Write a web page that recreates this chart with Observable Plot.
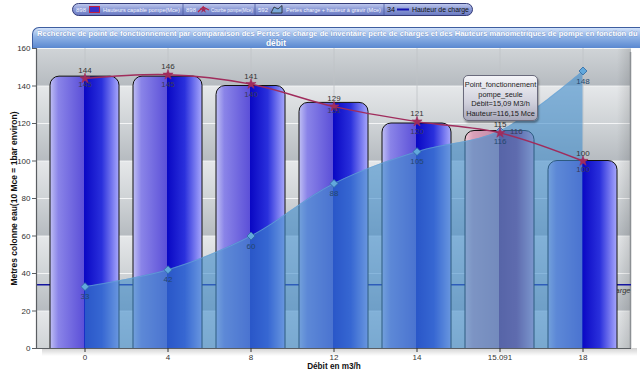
<!DOCTYPE html>
<html>
<head>
<meta charset="utf-8">
<script src="https://cdn.jsdelivr.net/npm/d3@7"></script>
<script src="https://cdn.jsdelivr.net/npm/@observablehq/plot@0.6"></script>
<style>
  html, body { margin: 0; padding: 0; background: #fff; }
  #wrap { position: relative; width: 640px; height: 376px; overflow: hidden; font-family: "Liberation Sans", Arial, sans-serif; }
  #chart { position: absolute; left: 0; top: 0; }
  #legend { position: absolute; left: 0; top: 0; }
  #title { position: absolute; left: 32px; top: 27px; width: 608px; height: 21px; border: 1px solid #3e5ea0; border-bottom: none; border-right: none; border-radius: 7px 0 0 0;
    background: linear-gradient(#d2e2fa, #8eb2e6 45%, #5a88d0 100%); box-sizing: border-box; }
  #tip { position: absolute; left: 463px; top: 75px; width: 75px; height: 46px; border: 1px solid #6a6a7c; border-radius: 5px;
    background: linear-gradient(#f4f4f8, #d0d0dc 60%, #a8a8ba); box-shadow: 1px 2px 2px rgba(0,0,0,0.35);
    font-size: 7.4px; line-height: 9.6px; text-align: center; color: #1a1a1a; padding-top: 4px; box-sizing: border-box; }
</style>
</head>
<body>
<div id="wrap">
  <div id="chart"></div>
  <div id="legend"></div>
  <div id="title"></div>
  <div id="tip"></div>
</div>
<script>
// ---------- data ----------
const categories = ["0", "4", "8", "12", "14", "15.091", "18"];
const hauteursCapable = [145, 145, 140, 131, 120, 116, 100];   // bars
const courbePompe = [144, 146, 141, 129, 121, 115, 100];       // line with stars
const pertesCharge = [33, 42, 60, 88, 105, 116, 148];          // area
const hauteurCharge = 34;                                      // horizontal line
const yTicks = [0, 20, 40, 60, 80, 100, 120, 140, 160];
const highlightCategory = "15.091";
const legendCounts = ["898", "898", "592", "34"];
const legendLabels = ["Hauteurs capable pompe(Mce)", "Courbe pompe(Mce)", "Pertes charge + hauteur à gravir (Mce)", "Hauteur de charge"];
const legendKinds = ["bar", "star", "area", "line"];
const titleLines = [
  "Recherche de point de fonctionnement par comparaison des Pertes de charge de inventaire perte de charges et des Hauteurs manometriques de pompe en fonction du",
  "débit"
];
const tipLines = ["Point_fonctionnement", "pompe_seule", "Débit=15,09 M3/h", "Hauteur=116,15 Mce"];
const xLabel = "Débit en m3/h";
const yLabel = "Metres colonne eau(10 Mce = 1bar environ)";
const chargeLabel = "Hauteur de charge";

const rows = categories.map((c, i) => ({cat: c, bar: hauteursCapable[i], pompe: courbePompe[i], pertes: pertesCharge[i]}));
const normalRows = rows.filter(d => d.cat !== highlightCategory);
const hiRows = rows.filter(d => d.cat === highlightCategory);

// ---------- background / defs mark ----------
function background(index, scales, values, dims) {
  const {width, height, marginLeft, marginRight, marginTop, marginBottom} = dims;
  const g = d3.create("svg:g");
  const defs = g.append("defs");
  function lin(id, stops, vertical) {
    const lg = defs.append("linearGradient").attr("id", id)
      .attr("x1", 0).attr("y1", 0).attr("x2", vertical ? 0 : 1).attr("y2", vertical ? 1 : 0);
    stops.forEach(([o, c, op]) => lg.append("stop").attr("offset", o).attr("stop-color", c).attr("stop-opacity", op == null ? 1 : op));
  }
  lin("barGrad", [[0, "#c0c0f4"], [0.12, "#8a84e8"], [0.49, "#5c50d8"], [0.5, "#0a08c4"], [0.75, "#2a30dc"], [1, "#a8a8fc"]]);
  lin("barGradHi", [[0, "#f0c8d4"], [0.12, "#d8a0b8"], [0.49, "#c28aa8"], [0.5, "#7a2a72"], [0.75, "#8e3c84"], [1, "#d6a8d0"]]);
  lin("bandLight", [[0, "#e6e8ea"], [1, "#cfd3d6"]], true);
  lin("bandDark", [[0, "#d0d4d7"], [1, "#b6bbc0"]], true);
  lin("shadow", [[0, "#000", 0.18], [1, "#000", 0]], true);
  lin("rightShade", [[0, "#000", 0], [1, "#000", 0.12]]);
  const x0 = marginLeft, x1 = width - marginRight, yTop = marginTop, yBot = height - marginBottom;
  g.append("rect").attr("x", x0 + 6).attr("y", yBot).attr("width", x1 - x0).attr("height", 8).attr("fill", "url(#shadow)");
  g.append("rect").attr("x", x0).attr("y", yTop).attr("width", x1 - x0).attr("height", yBot - yTop).attr("fill", "#d6d9dc");
  for (let i = 0; i < yTicks.length - 1; i++) {
    const ya = scales.y(yTicks[i + 1]), yb = scales.y(yTicks[i]);
    g.append("rect").attr("x", x0).attr("y", ya).attr("width", x1 - x0).attr("height", yb - ya)
      .attr("fill", i % 2 === 0 ? "url(#bandLight)" : "url(#bandDark)");
    g.append("line").attr("x1", x0).attr("x2", x1).attr("y1", ya + 0.5).attr("y2", ya + 0.5)
      .attr("stroke", "#f4f5f6").attr("stroke-width", 1);
  }
  g.append("rect").attr("x", x1 - 14).attr("y", yTop).attr("width", 14).attr("height", yBot - yTop).attr("fill", "url(#rightShade)");
  g.append("line").attr("x1", x1 - 0.5).attr("x2", x1 - 0.5).attr("y1", yTop + 4).attr("y2", yBot).attr("stroke", "#8c9094").attr("stroke-width", 1.5);
  return g.node();
}
function axisLines(index, scales, values, dims) {
  const {width, height, marginLeft, marginRight, marginTop, marginBottom} = dims;
  const g = d3.create("svg:g").attr("stroke", "#5a5e62").attr("stroke-width", 1.2);
  g.append("line").attr("x1", marginLeft + 0.5).attr("x2", marginLeft + 0.5).attr("y1", marginTop).attr("y2", height - marginBottom);
  g.append("line").attr("x1", marginLeft).attr("x2", width - marginRight).attr("y1", height - marginBottom + 0.5).attr("y2", height - marginBottom + 0.5);
  return g.node();
}

const chart = Plot.plot({
  width: 640,
  height: 376,
  marginTop: 48,
  marginBottom: 28,
  marginLeft: 36,
  marginRight: 9,
  style: {fontFamily: "'Liberation Sans', Arial, sans-serif", fontSize: "8px", color: "#333", background: "transparent", overflow: "visible"},
  x: {type: "band", domain: categories, padding: 0.166},
  y: {domain: [0, 160]},
  marks: [
    background,
    Plot.ruleX(categories, {stroke: "#bfc3c7", strokeWidth: 0.8}),
    Plot.ruleY([hauteurCharge], {stroke: "#1414a0", strokeWidth: 1.5}),
    Plot.text([chargeLabel], {frameAnchor: "right", y: () => hauteurCharge, dy: 6, dx: -1, textAnchor: "end", fill: "#333", fontSize: 7.5, fontStyle: "italic"}),
    Plot.barY(normalRows, {x: "cat", y: "bar", fill: "url(#barGrad)", stroke: "#111", strokeWidth: 1, rx: 9, insetBottom: -12, clip: true}),
    Plot.barY(hiRows, {x: "cat", y: "bar", fill: "url(#barGradHi)", stroke: "#111", strokeWidth: 1, rx: 9, insetBottom: -12, clip: true}),
    Plot.areaY(rows, {x: "cat", y: "pertes", curve: "catmull-rom", fill: "#3f8ccc", fillOpacity: 0.6}),
    Plot.lineY(rows, {x: "cat", y: "pertes", curve: "catmull-rom", stroke: "#6aa6d8", strokeWidth: 0.8, strokeOpacity: 0.8}),
    Plot.lineY(rows, {x: "cat", y: "pompe", curve: "catmull-rom", stroke: "#a02c5c", strokeWidth: 1.5}),
    Plot.dot(rows, {x: "cat", y: "pertes", symbol: "diamond2", r: 3.6, fill: "#62a8dc", stroke: "#2e6aa2", strokeWidth: 0.8}),
    Plot.dot(rows, {x: "cat", y: "pompe", symbol: "star", r: 3.2, fill: "#a02c5c", stroke: "#a02c5c", strokeWidth: 0.6}),
    Plot.text(rows, {x: "cat", y: "pompe", text: "pompe", dy: -8, fill: "#333", fontSize: 8}),
    Plot.text(normalRows, {x: "cat", y: "bar", text: "bar", dy: 8, fill: "#3a3a5a", fontSize: 8}),
    Plot.text(hiRows, {x: "cat", y: "bar", text: "bar", dx: 10, dy: 0, fill: "#3a3a5a", fontSize: 8, textAnchor: "start"}),
    Plot.text(rows, {x: "cat", y: "pertes", text: "pertes", dy: 10, fill: "#24476e", fontSize: 8}),
    axisLines,
    Plot.axisY({ticks: yTicks, tickSize: 4, tickPadding: 2, fontSize: 8, label: null, stroke: "#5a5e62", fill: "#333"}),
    Plot.axisX({tickSize: 4, tickPadding: 2, fontSize: 8, label: null, stroke: "#333", fill: "#333"}),
    Plot.text([xLabel], {frameAnchor: "bottom", dy: 20.5, fontWeight: "bold", fontSize: 8.2, fill: "#111"}),
    Plot.text([yLabel], {frameAnchor: "left", dx: -22, rotate: -90, textAnchor: "middle", fontWeight: "bold", fontSize: 8.5, fill: "#111"})
  ]
});
document.getElementById("chart").appendChild(chart);

// ---------- legend ----------
const ls = d3.select("#legend").append("svg").attr("width", 640).attr("height", 20)
  .style("font-family", "'Liberation Sans Narrow', 'Liberation Sans', Arial, sans-serif");
const ldefs = ls.append("defs");
const pg = ldefs.append("linearGradient").attr("id", "pill").attr("x1", 0).attr("y1", 0).attr("x2", 0).attr("y2", 1);
[[0, "#c2ccf0"], [0.45, "#8e9cd6"], [1, "#6878c2"]].forEach(([o, c]) => pg.append("stop").attr("offset", o).attr("stop-color", c));
ls.append("rect").attr("x", 72.5).attr("y", 3.5).attr("width", 400).attr("height", 12).attr("rx", 6).attr("fill", "url(#pill)").attr("stroke", "#343c78");
// layout of the legend parts (pixels)
const lgCountX = [76, 186, 258, 387];
const lgCountW = [10, 10, 10, 8];
const lgIconX = [89, 198, 271, 397];
const lgTextX = [103, 211, 286, 412];
const lgTextW = [77, 42, 95, 57];
const lgSepX = [183, 255, 384];
function fitText(sel, w, maxSize) {
  sel.attr("font-size", maxSize);
  const n = sel.node().getComputedTextLength();
  if (n > w) sel.attr("font-size", maxSize * w / n);
  return sel;
}
lgSepX.forEach(x => ls.append("line").attr("x1", x).attr("x2", x).attr("y1", 4).attr("y2", 15).attr("stroke", "#4a58a0").attr("stroke-width", 0.8));
legendLabels.forEach((lab, i) => {
  const last = i === legendLabels.length - 1;
  const col = last ? "#111" : "#f2f4ff";
  fitText(ls.append("text").attr("x", lgCountX[i]).attr("y", 12).attr("fill", col).text(legendCounts[i]), lgCountW[i], 7.5);
  const ix = lgIconX[i];
  const k = legendKinds[i];
  if (k === "bar") {
    ls.append("rect").attr("x", ix + 0.5).attr("y", 6.5).attr("width", 10).attr("height", 6).attr("fill", "#3a30c8").attr("stroke", "#c02040");
  } else if (k === "star") {
    ls.append("path").attr("d", `M${ix},12 L${ix + 5},7 L${ix + 11},10`).attr("stroke", "#c02040").attr("fill", "none").attr("stroke-width", 1.2);
    ls.append("path").attr("transform", `translate(${ix + 5.5},9.5)`).attr("d", d3.symbol(d3.symbolStar, 18)()).attr("fill", "#a02c5c");
  } else if (k === "area") {
    ls.append("path").attr("d", `M${ix},13 L${ix + 3},7 L${ix + 7},9 L${ix + 11},5.5 L${ix + 11},13 Z`).attr("fill", "#7aa8d8").attr("stroke", "#222").attr("stroke-width", 0.8);
  } else {
    ls.append("line").attr("x1", ix).attr("x2", ix + 12).attr("y1", 9.5).attr("y2", 9.5).attr("stroke", "#1414b0").attr("stroke-width", 2);
  }
  fitText(ls.append("text").attr("x", lgTextX[i]).attr("y", 12).attr("fill", col).text(lab), lgTextW[i], 7.5);
});

// ---------- title ----------
const ts = d3.select("#title").append("svg").attr("width", 608).attr("height", 21).style("position", "absolute").style("left", "-1px").style("top", "-1px");
const t1 = ts.append("text").attr("x", 5).attr("y", 9).attr("font-weight", "bold").attr("fill", "#fff")
  .attr("font-family", "'Liberation Sans Narrow', 'Liberation Sans', Arial, sans-serif")
  .attr("stroke", "#4a6aa8").attr("stroke-width", 0.3).attr("paint-order", "stroke").text(titleLines[0]);
fitText(t1, 600, 8.4);
ts.append("text").attr("x", 244).attr("y", 18.5).attr("text-anchor", "middle").attr("font-size", 8.4).attr("font-weight", "bold").attr("fill", "#fff")
  .attr("font-family", "'Liberation Sans Narrow', 'Liberation Sans', Arial, sans-serif").attr("stroke", "#4a6aa8").attr("stroke-width", 0.3).attr("paint-order", "stroke").text(titleLines[1]);

// ---------- tooltip ----------
d3.select("#tip").selectAll("div").data(tipLines).join("div").text(d => d);
</script>
</body>
</html>
